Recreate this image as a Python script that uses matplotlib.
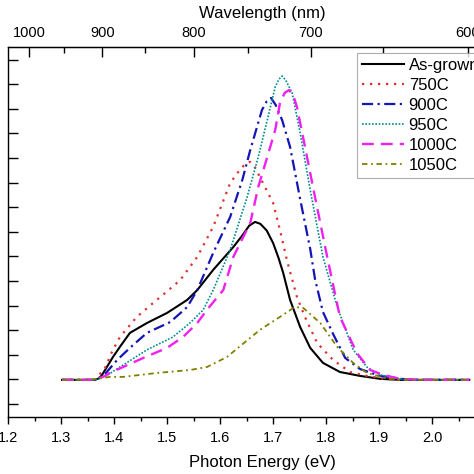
import numpy as np
import matplotlib.pyplot as plt
from matplotlib.ticker import MultipleLocator, FixedLocator, NullFormatter

plt.rcParams['font.family'] = ['Liberation Sans', 'DejaVu Sans']

# photon energy (eV) / intensity (a.u.)
e_asgrown = [1.302, 1.364, 1.374, 1.383, 1.398, 1.411, 1.430, 1.462, 1.500, 1.538, 1.557,
             1.587, 1.625, 1.642, 1.655, 1.666, 1.676, 1.688, 1.700, 1.710, 1.719, 1.732,
             1.751, 1.770, 1.794, 1.826, 1.864, 1.902, 1.940, 2.07]
i_asgrown = [0.98, 0.98, 1.06, 1.38, 1.91, 2.32, 2.89, 3.29, 3.70, 4.23, 4.63,
             5.45, 6.38, 6.85, 7.25, 7.40, 7.32, 7.05, 6.54, 5.95, 5.33, 4.23,
             3.13, 2.28, 1.67, 1.30, 1.14, 1.02, 0.98, 0.98]

e_750 = [1.302, 1.364, 1.383, 1.396, 1.411, 1.443, 1.474, 1.492, 1.525, 1.557, 1.587,
         1.619, 1.640, 1.651, 1.657, 1.665, 1.675, 1.700, 1.713, 1.726, 1.745, 1.760,
         1.783, 1.813, 1.845, 1.877, 1.911, 1.940, 2.07]
i_750 = [0.98, 0.98, 1.46, 2.11, 2.72, 3.54, 4.11, 4.43, 5.04, 5.98, 7.20,
         8.98, 9.60, 9.80, 9.84, 9.65, 9.23, 8.17, 7.07, 5.85, 4.35, 3.54,
         2.48, 1.79, 1.30, 1.14, 1.02, 0.98, 0.98]

e_900 = [1.302, 1.364, 1.383, 1.406, 1.430, 1.462, 1.506, 1.538, 1.557, 1.587, 1.619,
         1.642, 1.657, 1.679, 1.688, 1.696, 1.705, 1.717, 1.732, 1.751, 1.770, 1.779,
         1.794, 1.813, 1.836, 1.864, 1.902, 1.940, 1.977, 2.07]
i_900 = [0.98, 0.98, 1.22, 1.79, 2.28, 2.89, 3.33, 3.94, 4.63, 6.14, 7.60,
         9.11, 10.33, 11.95, 12.30, 12.44, 12.15, 11.54, 10.45, 8.33, 6.30, 5.08,
         3.74, 2.85, 1.87, 1.42, 1.14, 1.02, 0.98, 0.98]

e_950 = [1.302, 1.364, 1.388, 1.411, 1.462, 1.511, 1.543, 1.568, 1.587, 1.619, 1.651,
         1.672, 1.689, 1.704, 1.711, 1.717, 1.724, 1.736, 1.751, 1.770, 1.794, 1.821,
         1.851, 1.877, 1.902, 1.940, 1.977, 2.07]
i_950 = [0.98, 0.98, 1.18, 1.50, 2.20, 2.72, 3.29, 3.82, 4.63, 6.26, 8.41,
         10.04, 11.54, 12.89, 13.20, 13.33, 13.15, 12.64, 11.02, 8.70, 5.98, 3.94,
         2.20, 1.50, 1.18, 1.02, 0.98, 0.98]

e_1000 = [1.302, 1.364, 1.383, 1.392, 1.455, 1.500, 1.530, 1.557, 1.575, 1.606, 1.625,
          1.657, 1.672, 1.689, 1.704, 1.713, 1.722, 1.730, 1.738, 1.745, 1.764, 1.779,
          1.802, 1.826, 1.858, 1.883, 1.908, 1.940, 1.977, 2.07]
i_1000 = [0.98, 0.98, 1.14, 1.26, 1.87, 2.28, 2.72, 3.29, 3.82, 4.63, 5.98,
          7.36, 8.82, 10.04, 11.14, 12.24, 12.65, 12.76, 12.55, 12.07, 10.04, 8.41,
          5.98, 3.54, 2.07, 1.38, 1.18, 1.02, 0.98, 0.98]

e_1050 = [1.302, 1.355, 1.392, 1.417, 1.481, 1.543, 1.575, 1.613, 1.675, 1.713, 1.738,
          1.751, 1.757, 1.789, 1.821, 1.851, 1.877, 1.911, 1.940, 2.07]
i_1050 = [0.98, 0.98, 1.10, 1.10, 1.26, 1.38, 1.50, 1.91, 3.01, 3.54, 3.90,
          3.94, 3.90, 3.29, 2.32, 1.67, 1.26, 1.06, 0.98, 0.98]

wl_major = [1000, 900, 800, 700, 600]
wl_minor = [950, 850, 750, 650]

fig = plt.figure(figsize=(4.74, 4.74), dpi=100)
ax = fig.add_axes([8 / 474, 1 - 417 / 474, 509 / 474, 370 / 474])

ax.plot(e_asgrown, i_asgrown, color='black', lw=1.5, ls='-', label='As-grown')
ax.plot(e_750, i_750, color='#e03030', lw=1.6, ls=(0, (1, 2.6)), label='750C')
ax.plot(e_900, i_900, color='#1515b5', lw=1.6, ls=(0, (5, 2, 1, 2)), label='900C')
ax.plot(e_950, i_950, color='#008b8b', lw=1.2, ls=(0, (1, 1)), label='950C')
ax.plot(e_1000, i_1000, color='#f020f0', lw=1.7, ls=(0, (5, 3)), label='1000C')
ax.plot(e_1050, i_1050, color='#808000', lw=1.3, ls=(0, (3, 2, 1, 2)), label='1050C')

ax.set_xlim(1.2, 2.16)
ax.set_ylim(-0.53, 14.51)
ax.xaxis.set_major_locator(MultipleLocator(0.1))
ax.xaxis.set_minor_locator(MultipleLocator(0.05))
ax.yaxis.set_major_locator(MultipleLocator(1))
ax.set_yticklabels([])
ax.tick_params(axis='x', which='major', direction='out', length=5, width=1,
               labelsize=10.5, pad=5, top=False)
ax.tick_params(axis='x', which='minor', direction='out', length=3, width=1, top=False)
ax.tick_params(axis='y', which='major', direction='in', length=7, width=1, right=False)
ax.set_xlabel('Photon Energy (eV)', fontsize=12, labelpad=7)

sec = ax.secondary_xaxis('top', functions=(lambda x: 1240 / x, lambda x: 1240 / x))
sec.xaxis.set_major_locator(FixedLocator(wl_major))
sec.xaxis.set_minor_locator(FixedLocator(wl_minor))
sec.xaxis.set_minor_formatter(NullFormatter())
sec.tick_params(axis='x', which='major', direction='in', length=7, width=1,
                labelsize=10.5, pad=5)
sec.tick_params(axis='x', which='minor', direction='in', length=4, width=1)
sec.set_xlabel('Wavelength (nm)', fontsize=12, labelpad=6)

for s in ax.spines.values():
    s.set_linewidth(1)

leg = ax.legend(loc='upper left', bbox_to_anchor=(357 / 474, 1 - 53 / 474),
                bbox_transform=fig.transFigure, borderaxespad=0, fontsize=12,
                frameon=True, fancybox=False, edgecolor='#999999',
                handlelength=2.5, handletextpad=0.3, labelspacing=0.3,
                borderpad=0.3)
leg.get_frame().set_linewidth(0.8)

fig.savefig('out.png', dpi=100)
